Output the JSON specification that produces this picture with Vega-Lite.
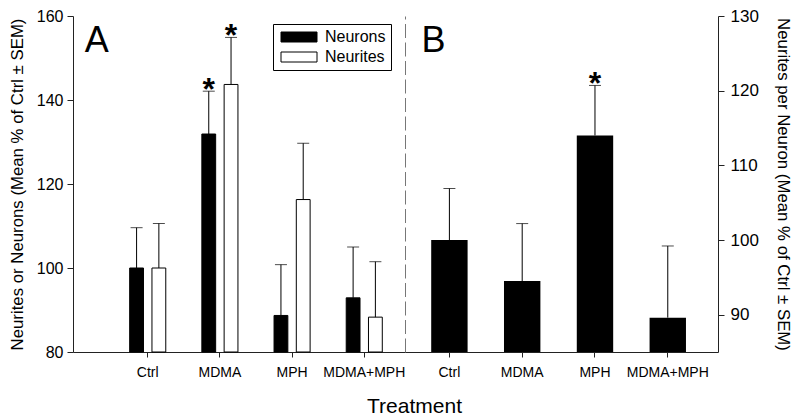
{
  "$schema": "https://vega.github.io/schema/vega-lite/v6.json",
  "padding": {"left": 9, "top": 7, "right": 5, "bottom": 5},
  "bounds": "flush",
  "config": {
    "font": "Liberation Sans",
    "view": {"stroke": null},
    "axis": {"domainColor": "#222", "tickColor": "#222", "labelColor": "black", "titleColor": "black", "grid": false, "titleFontWeight": "normal", "labelFont": "Liberation Sans", "titleFont": "Liberation Sans"}
  },
  "hconcat": [
    {
      "width": 332,
      "height": 336,
      "data": {"values": [
        {"treatment": "Ctrl", "measure": "Neurons", "mean": 100, "upper": 109.6, "sig": false},
        {"treatment": "Ctrl", "measure": "Neurites", "mean": 100, "upper": 110.6, "sig": false},
        {"treatment": "MDMA", "measure": "Neurons", "mean": 131.9, "upper": 142.1, "sig": true},
        {"treatment": "MDMA", "measure": "Neurites", "mean": 143.7, "upper": 154.9, "sig": true},
        {"treatment": "MPH", "measure": "Neurons", "mean": 88.7, "upper": 100.8, "sig": false},
        {"treatment": "MPH", "measure": "Neurites", "mean": 116.3, "upper": 129.7, "sig": false},
        {"treatment": "MDMA+MPH", "measure": "Neurons", "mean": 92.9, "upper": 105.0, "sig": false},
        {"treatment": "MDMA+MPH", "measure": "Neurites", "mean": 88.3, "upper": 101.5, "sig": false}
      ]},
      "encoding": {
        "x": {
          "field": "treatment", "type": "nominal",
          "sort": ["Ctrl", "MDMA", "MPH", "MDMA+MPH"],
          "scale": {"paddingInner": 0.5, "paddingOuter": 0.55, "align": 0.714},
          "axis": {"labelAngle": 0, "labelFontSize": 14, "tickSize": 5, "labelPadding": 8, "title": "Treatment", "titleFontSize": 21, "titleX": 341, "titleY": 60, "titleAnchor": "middle", "titleBaseline": "alphabetic", "titleAlign": "center"}
        },
        "xOffset": {"field": "measure", "type": "nominal", "sort": ["Neurons", "Neurites"], "scale": {"paddingInner": 0.38, "paddingOuter": 0}}
      },
      "layer": [
        {
          "mark": {"type": "bar", "stroke": "black", "strokeWidth": 1},
          "encoding": {
            "y": {"field": "mean", "type": "quantitative",
              "scale": {"domain": [80, 160], "zero": false, "nice": false},
              "axis": {"values": [80, 100, 120, 140, 160], "labelFontSize": 16, "tickSize": 6, "labelPadding": 4, "title": "Neurites or Neurons (Mean % of Ctrl ± SEM)", "titleFontSize": 16.8, "titlePadding": 10}},
            "y2": {"datum": 80},
            "color": {"field": "measure", "type": "nominal",
              "scale": {"domain": ["Neurons", "Neurites"], "range": ["black", "white"]},
              "legend": {"orient": "none", "legendX": 200, "legendY": 8, "title": null, "padding": 5, "strokeColor": "black", "fillColor": "white", "symbolType": "M-1,-1H6.2V1H-1Z", "symbolSize": 100, "symbolStrokeColor": "black", "symbolStrokeWidth": 1, "labelFontSize": 16, "labelOffset": 31, "rowPadding": 4}}
          }
        },
        {
          "mark": {"type": "rule", "color": "black", "strokeWidth": 1},
          "encoding": {
            "y": {"field": "mean", "type": "quantitative", "axis": {"orient": "right", "labels": false, "ticks": false, "title": null, "domainDash": [14, 4.5], "domainColor": "#777"}},
            "y2": {"field": "upper"}
          }
        },
        {
          "mark": {"type": "tick", "orient": "horizontal", "color": "black", "thickness": 1, "size": 12},
          "encoding": {"y": {"field": "upper", "type": "quantitative", "axis": null}}
        },
        {
          "transform": [{"filter": "datum.sig"}],
          "mark": {"type": "text", "text": "*", "fontSize": 32, "fontWeight": "bold", "baseline": "alphabetic", "dy": 9},
          "encoding": {"y": {"field": "upper", "type": "quantitative", "axis": null}}
        },
        {
          "data": {"values": [{"label": "A", "treatment": "Ctrl", "pos": 151.4}]},
          "mark": {"type": "text", "fontSize": 36, "align": "left", "baseline": "alphabetic", "dx": -63},
          "encoding": {
            "x": {"field": "treatment", "type": "nominal"},
            "xOffset": null,
            "y": {"field": "pos", "type": "quantitative", "axis": null},
            "text": {"field": "label"}
          }
        }
      ],
      "resolve": {"axis": {"y": "independent"}}
    },
    {
      "width": 313,
      "height": 336,
      "data": {"values": [
        {"treatment": "Ctrl", "mean": 100, "upper": 106.9, "sig": false},
        {"treatment": "MDMA", "mean": 94.5, "upper": 102.2, "sig": false},
        {"treatment": "MPH", "mean": 114.0, "upper": 120.7, "sig": true},
        {"treatment": "MDMA+MPH", "mean": 89.6, "upper": 99.2, "sig": false}
      ]},
      "encoding": {
        "x": {
          "field": "treatment", "type": "nominal",
          "sort": ["Ctrl", "MDMA", "MPH", "MDMA+MPH"],
          "scale": {"paddingInner": 0.5, "paddingOuter": 0.4, "align": 0.45},
          "axis": {"labelAngle": 0, "labelFontSize": 14, "tickSize": 5, "labelPadding": 8, "title": null}
        }
      },
      "layer": [
        {
          "mark": {"type": "bar", "color": "black"},
          "encoding": {
            "y": {"field": "mean", "type": "quantitative",
              "scale": {"domain": [85, 130], "zero": false, "nice": false},
              "axis": {"orient": "right", "values": [90, 100, 110, 120, 130], "labelFontSize": 17, "tickSize": 6, "labelPadding": 6, "title": "Neurites per Neuron (Mean % of Ctrl ± SEM)", "titleFontSize": 16.8, "titlePadding": 15}},
            "y2": {"datum": 85}
          }
        },
        {
          "mark": {"type": "rule", "color": "black", "strokeWidth": 1},
          "encoding": {"y": {"field": "mean", "type": "quantitative"}, "y2": {"field": "upper"}}
        },
        {
          "mark": {"type": "tick", "orient": "horizontal", "color": "black", "thickness": 1, "size": 12},
          "encoding": {"y": {"field": "upper", "type": "quantitative"}}
        },
        {
          "transform": [{"filter": "datum.sig"}],
          "mark": {"type": "text", "text": "*", "fontSize": 32, "fontWeight": "bold", "baseline": "alphabetic", "dy": 9},
          "encoding": {"y": {"field": "upper", "type": "quantitative"}}
        },
        {
          "data": {"values": [{"label": "B", "treatment": "Ctrl", "pos": 125.2}]},
          "mark": {"type": "text", "fontSize": 36, "align": "left", "baseline": "alphabetic", "dx": -28},
          "encoding": {
            "x": {"field": "treatment", "type": "nominal"},
            "y": {"field": "pos", "type": "quantitative"},
            "text": {"field": "label"}
          }
        }
      ]
    }
  ],
  "spacing": 0
}
